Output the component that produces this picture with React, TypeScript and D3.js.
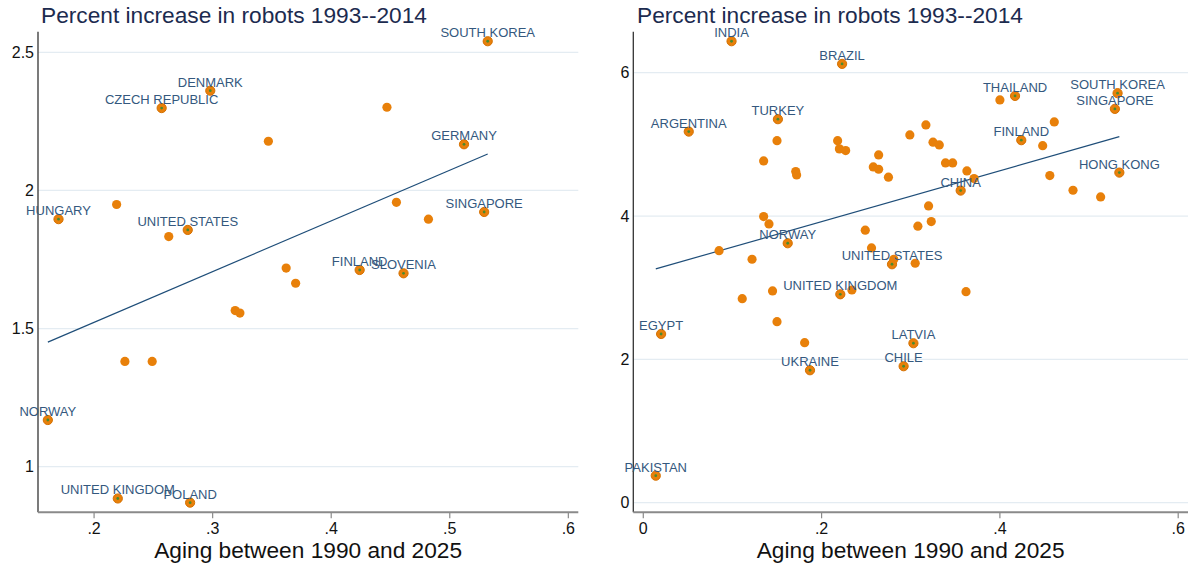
import React from "react";
import * as d3 from "d3";

// ---------- DATA ----------
const leftCountries = ["SOUTH KOREA","DENMARK","CZECH REPUBLIC","","HUNGARY","","UNITED STATES","","","","","","","","NORWAY","UNITED KINGDOM","POLAND","","GERMANY","","","SINGAPORE","FINLAND","SLOVENIA"];
const leftAging = [0.532,0.298,0.257,0.347,0.170,0.219,0.279,0.263,0.362,0.370,0.319,0.323,0.226,0.249,0.161,0.220,0.281,0.447,0.512,0.455,0.482,0.529,0.424,0.461];
const leftRobots = [2.540,2.361,2.298,2.178,1.896,1.949,1.857,1.833,1.719,1.664,1.565,1.556,1.381,1.381,1.169,0.885,0.870,2.301,2.167,1.957,1.896,1.922,1.712,1.700];
const leftFitX = [0.161, 0.532];
const leftFitY = [1.451, 2.132];
const leftXTicks = [0.2, 0.3, 0.4, 0.5, 0.6];
const leftYTicks = [1, 1.5, 2, 2.5];

const rightCountries = ["INDIA","BRAZIL","TURKEY","ARGENTINA","","","","","","","","","","","","","","NORWAY","","","","","UNITED STATES","","","THAILAND","","SOUTH KOREA","SINGAPORE","","","","","","FINLAND","","","","","","CHINA","HONG KONG","","","","","","","","","UNITED KINGDOM","","","EGYPT","","UKRAINE","PAKISTAN","","LATVIA","CHILE"];
const rightAging = [0.099,0.223,0.151,0.051,0.150,0.218,0.220,0.227,0.264,0.135,0.171,0.172,0.258,0.264,0.275,0.135,0.141,0.162,0.249,0.256,0.085,0.122,0.279,0.281,0.305,0.417,0.400,0.532,0.529,0.461,0.317,0.299,0.325,0.332,0.424,0.448,0.339,0.347,0.363,0.371,0.356,0.534,0.456,0.482,0.513,0.320,0.323,0.308,0.145,0.111,0.221,0.234,0.150,0.020,0.181,0.187,0.014,0.362,0.303,0.292];
const rightRobots = [6.439,6.123,5.351,5.178,5.052,5.052,4.937,4.913,4.853,4.769,4.620,4.574,4.685,4.653,4.542,3.992,3.890,3.620,3.802,3.555,3.517,3.397,3.327,3.397,3.341,5.676,5.620,5.714,5.495,5.313,5.271,5.132,5.030,4.992,5.058,4.982,4.741,4.741,4.629,4.522,4.355,4.606,4.564,4.360,4.267,4.141,3.922,3.858,2.955,2.847,2.908,2.968,2.526,2.354,2.233,1.848,0.377,2.945,2.225,1.904];
const rightFitX = [0.014, 0.534];
const rightFitY = [3.262, 5.108];
const rightXTicks = [0, 0.2, 0.4, 0.6];
const rightYTicks = [0, 2, 4, 6];

const titleText = "Percent increase in robots 1993--2014";
const xTitleText = "Aging between 1990 and 2025";

// ---------- STYLE ----------
const FONT = "'Liberation Sans', Arial, Helvetica, sans-serif";
const ORANGE = "#e8800a";
const LABEL = "#34587e";
const TITLE = "#1c2b4f";
const LINE = "#1f4e79";
const GRID = "#e4ecf2";

const fmt = (v: number) => {
  if (v === 0) return "0";
  const s = String(v);
  return s.startsWith("0.") ? s.slice(1) : s;
};

type PanelProps = {
  countries: string[];
  xs: number[];
  ys: number[];
  fitX: number[];
  fitY: number[];
  xTicks: number[];
  yTicks: number[];
  xDomain: [number, number];
  yDomain: [number, number];
  x0: number;
  x1: number;
  titleX: number;
};

const TOP = 31.7;
const BOTTOM = 512.3;

function Panel(p: PanelProps) {
  const x = d3.scaleLinear().domain(p.xDomain).range([p.x0, p.x1]);
  const y = d3.scaleLinear().domain(p.yDomain).range([BOTTOM, TOP]);
  const fit = d3
    .line<number>()
    .x((d) => x(p.fitX[d]))
    .y((d) => y(p.fitY[d]))([0, 1]) as string;
  const idx = p.xs.map((_, i) => i);
  const labeled = idx.filter((i) => p.countries[i] !== "");
  const cx = (p.x0 + p.x1) / 2;
  return (
    <g>
      <text x={p.titleX} y={23} fontSize={22.7} fill={TITLE} fontFamily={FONT}>
        {titleText}
      </text>
      {p.yTicks.map((t) => (
        <line key={"g" + t} x1={p.x0} x2={p.x1} y1={y(t)} y2={y(t)} stroke={GRID} strokeWidth={1.3} />
      ))}
      {p.yTicks.map((t) => (
        <text key={"yl" + t} x={p.x0 - 4} y={y(t) + 5.5} textAnchor="end" fontSize={16} fill="#111" fontFamily={FONT}>
          {fmt(t)}
        </text>
      ))}
      <line x1={p.x0} x2={p.x0} y1={TOP} y2={BOTTOM} stroke="#333" strokeWidth={1.3} />
      <line x1={p.x0} x2={p.x1} y1={BOTTOM} y2={BOTTOM} stroke="#8a8a8a" strokeWidth={2} />
      {p.xTicks.map((t) => (
        <g key={"xt" + t}>
          <line x1={x(t)} x2={x(t)} y1={BOTTOM} y2={BOTTOM + 6} stroke="#8a8a8a" strokeWidth={1.2} />
          <text x={x(t)} y={534} textAnchor="middle" fontSize={16} fill="#111" fontFamily={FONT}>
            {fmt(t)}
          </text>
        </g>
      ))}
      <text x={cx} y={557.5} textAnchor="middle" fontSize={22.7} fill="#111" fontFamily={FONT}>
        {xTitleText}
      </text>
      <path d={fit} fill="none" stroke={LINE} strokeWidth={1.2} />
      {idx.map((i) => (
        <circle key={"p" + i} cx={x(p.xs[i])} cy={y(p.ys[i])} r={4.6} fill={ORANGE}
          stroke={p.countries[i] ? "#d57000" : "none"} strokeWidth={1} />
      ))}
      {labeled.map((i) => (
        <circle key={"c" + i} cx={x(p.xs[i])} cy={y(p.ys[i])} r={1.4} fill="#4a8a2e" />
      ))}
      {labeled.map((i) => (
        <text key={"l" + i} x={x(p.xs[i])} y={y(p.ys[i]) - 4} textAnchor="middle" fontSize={13}
          fill={LABEL} fontFamily={FONT}>
          {p.countries[i]}
        </text>
      ))}
    </g>
  );
}

export default function App() {
  return (
    <svg width={1190} height={567} style={{ position: "absolute", left: 0, top: 0, background: "#fff" }}>
      <rect x={0} y={0} width={1190} height={567} fill="#fff" />
      <Panel countries={leftCountries} xs={leftAging} ys={leftRobots} fitX={leftFitX} fitY={leftFitY}
        xTicks={leftXTicks} yTicks={leftYTicks} xDomain={[0.1527, 0.6084]} yDomain={[0.835, 2.5745]}
        x0={38} x1={578.3} titleX={41} />
      <Panel countries={rightCountries} xs={rightAging} ys={rightRobots} fitX={rightFitX} fitY={rightFitY}
        xTicks={rightXTicks} yTicks={rightYTicks} xDomain={[-0.0112, 0.611]} yDomain={[-0.134, 6.572]}
        x0={633.3} x1={1188} titleX={637} />
    </svg>
  );
}
